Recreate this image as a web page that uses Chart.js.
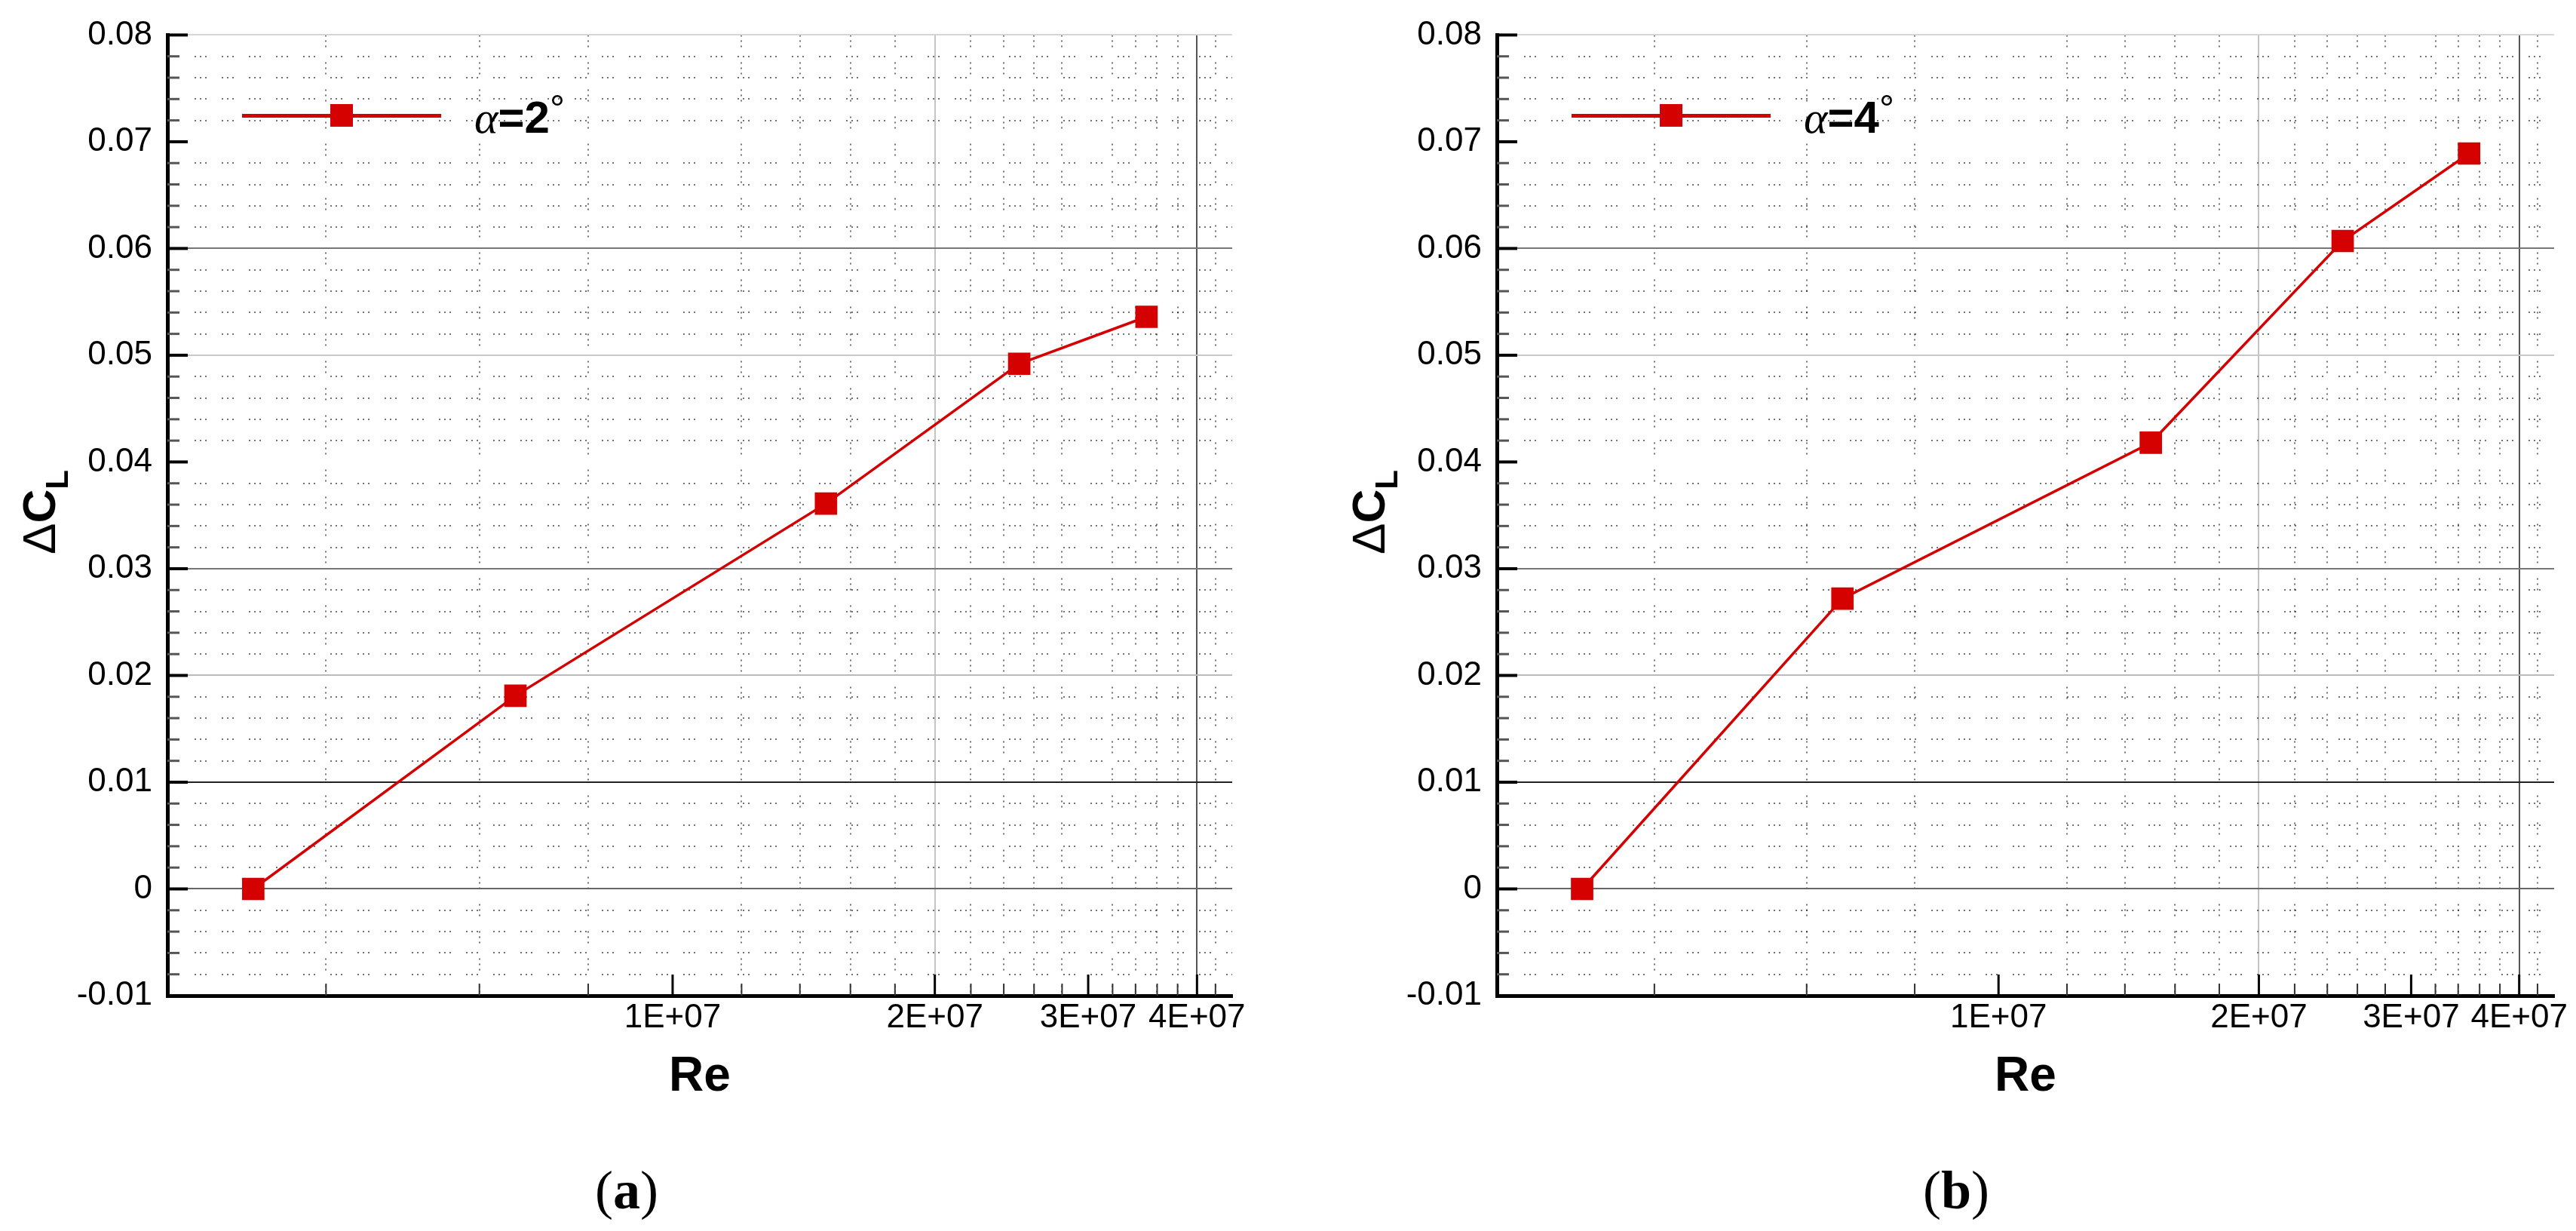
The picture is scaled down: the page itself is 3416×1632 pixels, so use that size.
<!DOCTYPE html>
<html>
<head>
<meta charset="utf-8">
<script src="https://cdn.jsdelivr.net/npm/chart.js@4.4.1/dist/chart.umd.min.js"></script>
<style>
    html, body { margin: 0; padding: 0; background: #fff; }
    body { width: 3416px; height: 1632px; position: relative; overflow: hidden;
           font-family: "Liberation Sans", Arial, sans-serif; color: #000; }
    canvas { position: absolute; top: 0; }
    #chartA { left: 0; }
    #chartB { left: 1700px; }
    .ylab { position: absolute; white-space: nowrap; font-size: 62px; line-height: 62px;
            transform: translate(-50%, -50%) rotate(-90deg); }
    .ylab b { font-weight: bold; }
    .ylab sub { font-size: 42px; font-weight: bold; vertical-align: -0.4em; line-height: 0; }
    .leg-line { position: absolute; height: 5px; width: 264px; background: #d50000; }
    .leg-mark { position: absolute; width: 30px; height: 30px; background: #d50000; }
    .leg-text { position: absolute; font-size: 60px; line-height: 60px; white-space: nowrap;
                transform: translateY(-50%); }
    .leg-text i { font-family: "Liberation Serif", serif; font-style: italic; }
    .leg-text b { font-weight: bold; }
    .leg-text span { font-weight: normal; font-size: 50px; vertical-align: 0.3em; }
    .tag { position: absolute; font-family: "Liberation Serif", "Times New Roman", serif;
           font-size: 72px; line-height: 72px; transform: translate(-50%, -50%); }
</style>
</head>
<body>
<canvas id="chartA" width="1700" height="1632"></canvas>
<canvas id="chartB" width="1716" height="1632"></canvas>
<div id="overlay"></div>
<script>
// Donnees
const reynolds = [3.3e6, 6.6e6, 1.5e7, 2.5e7, 3.5e7];
const dCL_alpha2 = [0, 0.0181, 0.0361, 0.0492, 0.0536];
const dCL_alpha4 = [0, 0.0272, 0.0418, 0.0607, 0.0689];
const alphaDeg = [2, 4];
const panelTags = ['a', 'b'];

// Axes
const xMin = 2.63e6, xMax = 4.39e7;
const yMin = -0.01, yMax = 0.08;
const xTicks = [1e7, 2e7, 3e7, 4e7];
const xTickLabels = ['1E+07', '2E+07', '3E+07', '4E+07'];
const xMinorTicks = [4e6, 6e6, 8e6, 1.2e7, 1.4e7, 1.6e7, 1.8e7, 2.2e7, 2.4e7, 2.6e7, 2.8e7,
                     3.2e7, 3.4e7, 3.6e7, 3.8e7, 4.2e7];
const yTicks = [-0.01, 0, 0.01, 0.02, 0.03, 0.04, 0.05, 0.06, 0.07, 0.08];
const yTickLabels = ['-0.01', '0', '0.01', '0.02', '0.03', '0.04', '0.05', '0.06', '0.07', '0.08'];
const yMinorTicks = [-0.008, -0.006, -0.004, -0.002,
                     0.002, 0.004, 0.006, 0.008, 0.012, 0.014, 0.016, 0.018,
                     0.022, 0.024, 0.026, 0.028, 0.032, 0.034, 0.036, 0.038,
                     0.042, 0.044, 0.046, 0.048, 0.052, 0.054, 0.056, 0.058,
                     0.062, 0.064, 0.066, 0.068, 0.072, 0.074, 0.076, 0.078];

// Couleurs des lignes de grille principales (comme sur l'image)
const NONE = 'rgba(0,0,0,0)';
const yGridColors = [NONE, '#666', '#222', '#bbb', '#777', NONE, '#c8c8c8', '#777', NONE, '#d6d6d6'];
const xGridColors = [NONE, '#c4c4c4', NONE, '#555'];
const RED = '#d50000';
const DOTS = [2, 5, 2, 5, 2, 20];

// Petites graduations tournees vers l'interieur
const inwardTicks = {
    id: 'inwardTicks',
    afterDatasetsDraw(chart) {
        const {ctx, chartArea: a, scales} = chart;
        const seg = (x1, y1, x2, y2, w, c) => {
            ctx.beginPath();
            ctx.lineWidth = w;
            ctx.strokeStyle = c;
            ctx.moveTo(x1, y1);
            ctx.lineTo(x2, y2);
            ctx.stroke();
        };
        ctx.save();
        scales.ym.ticks.forEach(t => {
            const py = scales.ym.getPixelForValue(t.value);
            seg(a.left, py, a.left + 16, py, 3, '#555');
        });
        scales.y.ticks.forEach(t => {
            const py = scales.y.getPixelForValue(t.value);
            seg(a.left, py, a.left + 27, py, 4, '#000');
        });
        scales.xm.ticks.forEach(t => {
            const px = scales.xm.getPixelForValue(t.value);
            seg(px, a.bottom, px, a.bottom - 16, 2, '#333');
        });
        scales.x.ticks.forEach(t => {
            const px = scales.x.getPixelForValue(t.value);
            seg(px, a.bottom, px, a.bottom - 28, 3, '#000');
        });
        ctx.restore();
    }
};

function makeChart(canvasId, values, yAxisWidth, padRight) {
    const ctx = document.getElementById(canvasId);
    return new Chart(ctx, {
        type: 'scatter',
        data: {
            datasets: [{
                data: reynolds.map((re, i) => ({x: re, y: values[i]})),
                showLine: true,
                borderColor: RED,
                borderWidth: 3.5,
                backgroundColor: RED,
                pointStyle: 'rect',
                pointRadius: 21,
                pointBorderWidth: 0,
                pointBackgroundColor: RED
            }]
        },
        options: {
            responsive: false,
            animation: false,
            devicePixelRatio: 1,
            layout: { padding: { top: 42, left: 0, right: padRight, bottom: 112 } },
            plugins: { legend: { display: false }, tooltip: { enabled: false } },
            scales: {
                x: {
                    type: 'logarithmic', axis: 'x', position: 'bottom',
                    min: xMin, max: xMax, bounds: 'data',
                    afterBuildTicks: s => { s.ticks = xTicks.map(v => ({value: v})); },
                    afterFit: s => { s.height = 200; },
                    ticks: {
                        autoSkip: false, maxRotation: 0, padding: 3, color: '#000',
                        font: { family: 'Liberation Sans', size: 44 },
                        callback: (v, i) => xTickLabels[i]
                    },
                    grid: { drawTicks: false, lineWidth: 2, color: c => xGridColors[c.index] || NONE },
                    border: { display: true, color: '#000', width: 5 },
                    title: {
                        display: true, text: 'Re', color: '#000',
                        font: { family: 'Liberation Sans', size: 64, weight: 'bold' },
                        padding: { top: 0, bottom: 53 }
                    }
                },
                xm: {
                    type: 'logarithmic', axis: 'x', position: 'bottom',
                    min: xMin, max: xMax, bounds: 'data',
                    afterBuildTicks: s => { s.ticks = xMinorTicks.map(v => ({value: v})); },
                    afterFit: s => { s.height = 0; },
                    ticks: { display: false },
                    grid: { drawTicks: false, lineWidth: 2, color: 'rgba(0,0,0,0.55)' },
                    border: { display: false, dash: DOTS }
                },
                y: {
                    type: 'linear', axis: 'y', position: 'left',
                    min: yMin, max: yMax, bounds: 'data',
                    afterBuildTicks: s => { s.ticks = yTicks.map(v => ({value: v})); },
                    afterFit: s => { s.width = yAxisWidth; },
                    ticks: {
                        autoSkip: false, padding: 20, color: '#000',
                        font: { family: 'Liberation Sans', size: 44 },
                        callback: (v, i) => yTickLabels[i]
                    },
                    grid: { drawTicks: false, lineWidth: 2, color: c => yGridColors[c.index] || NONE },
                    border: { display: true, color: '#000', width: 5 }
                },
                ym: {
                    type: 'linear', axis: 'y', position: 'left',
                    min: yMin, max: yMax, bounds: 'data',
                    afterBuildTicks: s => { s.ticks = yMinorTicks.map(v => ({value: v})); },
                    afterFit: s => { s.width = 0; },
                    ticks: { display: false },
                    grid: { drawTicks: false, lineWidth: 2, color: 'rgba(0,0,0,0.55)' },
                    border: { display: false, dash: DOTS }
                }
            }
        },
        plugins: [inwardTicks]
    });
}

document.addEventListener('DOMContentLoaded', function() {
    makeChart('chartA', dCL_alpha2, 222, 66);
    makeChart('chartB', dCL_alpha4, 285, 29);

    // Titres d'axe Y, legendes et etiquettes (a)/(b)
    const overlay = document.getElementById('overlay');
    const shift = [0, 1763];
    alphaDeg.forEach((deg, k) => {
        const dx = shift[k];
        overlay.insertAdjacentHTML('beforeend', `
            <div class="ylab" style="left:${52 + dx}px;top:679px">Δ<b>C</b><sub>L</sub></div>
            <div class="leg-line" style="left:${321 + dx}px;top:151px"></div>
            <div class="leg-mark" style="left:${438 + dx}px;top:138px"></div>
            <div class="leg-text" style="left:${629 + dx}px;top:150px"><i>α</i><b>=${deg}</b><span>°</span></div>
            <div class="tag" style="left:${831 + dx}px;top:1578px">(<b>${panelTags[k]}</b>)</div>
        `);
    });
});
</script>
</body>
</html>
